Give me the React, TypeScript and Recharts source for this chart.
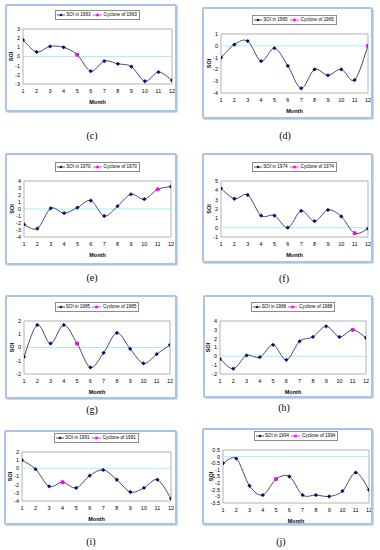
import React from 'react';
import { LineChart, Line, XAxis, YAxis, ReferenceLine, ReferenceArea, Legend } from 'recharts';

// ---------- data ----------
const months = [1, 2, 3, 4, 5, 6, 7, 8, 9, 10, 11, 12];
const years = ['1963', '1965', '1970', '1974', '1985', '1988', '1991', '1994'];
const captions = ['(c)', '(d)', '(e)', '(f)', '(g)', '(h)', '(i)', '(j)'];

const soi1963 = [1.8, 0.5, 1.1, 1.0, 0.2, -1.6, -0.5, -0.8, -1.1, -2.7, -1.7, -2.6];
const soi1965 = [-1.0, 0.1, 0.4, -1.3, -0.2, -1.7, -3.6, -2.0, -2.5, -2.0, -2.9, 0.0];
const soi1970 = [-2.2, -2.8, 0.1, -0.6, 0.2, 1.2, -1.0, 0.4, 2.1, 1.4, 2.8, 3.2];
const soi1974 = [4.2, 3.1, 3.5, 1.3, 1.3, 0.0, 1.8, 0.7, 1.9, 1.2, -0.6, -0.1];
const soi1985 = [-0.7, 1.7, 0.3, 1.7, 0.3, -1.5, -0.4, 1.1, -0.1, -1.2, -0.5, 0.2];
const soi1988 = [-0.3, -1.4, 0.1, -0.1, 1.3, -0.4, 1.7, 2.2, 3.4, 2.2, 3.0, 2.1];
const soi1991 = [1.0, -0.1, -2.2, -1.7, -2.4, -0.9, -0.2, -1.4, -2.9, -2.4, -1.4, -3.7];
const soi1994 = [-0.5, -0.15, -2.2, -2.9, -1.7, -1.5, -2.9, -2.9, -3.0, -2.6, -1.2, -2.5];
const soiSeries = [soi1963, soi1965, soi1970, soi1974, soi1985, soi1988, soi1991, soi1994];

const cycloneMonths = [5, 12, 11, 11, 5, 11, 4, 5];

const ticks1963 = [-3, -2, -1, 0, 1, 2, 3];
const ticks1965 = [-4, -3, -2, -1, 0, 1];
const ticks1970 = [-4, -3, -2, -1, 0, 1, 2, 3, 4];
const ticks1974 = [-1, 0, 1, 2, 3, 4, 5];
const ticks1985 = [-2, -1, 0, 1, 2];
const ticks1988 = [-2, -1, 0, 1, 2, 3, 4];
const ticks1991 = [-4, -3, -2, -1, 0, 1, 2];
const ticks1994 = [-3.5, -3, -2.5, -2, -1.5, -1, -0.5, 0, 0.5];
const yTickSets = [ticks1963, ticks1965, ticks1970, ticks1974, ticks1985, ticks1988, ticks1991, ticks1994];

// ---------- layout (absolute page pixels) ----------
const frames = [
  { x: 5, y: 4, w: 172, h: 108 },
  { x: 202, y: 7, w: 171, h: 112 },
  { x: 5, y: 153, w: 172, h: 112 },
  { x: 202, y: 153, w: 171, h: 110 },
  { x: 5, y: 295, w: 172, h: 104 },
  { x: 203, y: 295, w: 170, h: 103 },
  { x: 4, y: 430, w: 173, h: 95 },
  { x: 202, y: 428, w: 171, h: 97 },
];
const plots = [
  { x1: 23, x2: 172, y1: 29, y2: 84 },
  { x1: 221, x2: 368, y1: 34, y2: 93 },
  { x1: 24, x2: 171, y1: 181, y2: 237 },
  { x1: 221, x2: 368, y1: 181, y2: 237 },
  { x1: 24, x2: 170, y1: 321, y2: 374 },
  { x1: 220, x2: 366, y1: 321, y2: 374 },
  { x1: 22, x2: 171, y1: 452, y2: 501 },
  { x1: 223, x2: 369, y1: 450, y2: 503 },
];
const captionPos = [
  { x: 92, y: 136 },
  { x: 285, y: 136 },
  { x: 92, y: 278 },
  { x: 284, y: 279 },
  { x: 92, y: 410 },
  { x: 284, y: 408 },
  { x: 91, y: 542 },
  { x: 281, y: 542 },
];

const LINE_COLOR = '#2a2a48';
const MARKER = '#00007f';
const CYC = '#ff00ff';
const ZERO = '#8cf0f4';
const FRAME = '#a9c3ea';
const FONT = 'Arial, "Liberation Sans", sans-serif';

// Excel-like smoothed line (Catmull-Rom bezier)
function excelCurve(context: any) {
  let pts: number[][] = [];
  return {
    areaStart() {},
    areaEnd() {},
    lineStart() {
      pts = [];
    },
    lineEnd() {
      const n = pts.length;
      if (n === 0) return;
      context.moveTo(pts[0][0], pts[0][1]);
      if (n === 1) {
        context.lineTo(pts[0][0], pts[0][1]);
        return;
      }
      for (let i = 0; i < n - 1; i++) {
        const p0 = pts[i - 1] || pts[i];
        const p1 = pts[i];
        const p2 = pts[i + 1];
        const p3 = pts[i + 2] || pts[i + 1];
        context.bezierCurveTo(
          p1[0] + (p2[0] - p0[0]) / 6,
          p1[1] + (p2[1] - p0[1]) / 6,
          p2[0] - (p3[0] - p1[0]) / 6,
          p2[1] - (p3[1] - p1[1]) / 6,
          p2[0],
          p2[1]
        );
      }
    },
    point(x: number, y: number) {
      pts.push([+x, +y]);
    },
  };
}

const DiamondDot = (props: any) => {
  const { cx, cy, index } = props;
  if (cx == null || cy == null) return <g key={`d${index}`} />;
  const r = 1.9;
  return (
    <polygon
      key={`d${index}`}
      points={`${cx},${cy - r} ${cx + r},${cy} ${cx},${cy + r} ${cx - r},${cy}`}
      fill={MARKER}
      stroke={MARKER}
      strokeWidth={0.3}
    />
  );
};

const SquareDot = (props: any) => {
  const { cx, cy, index } = props;
  if (cx == null || cy == null) return <g key={`s${index}`} />;
  const r = 1.7;
  return <rect key={`s${index}`} x={cx - r} y={cy - r} width={2 * r} height={2 * r} fill={CYC} />;
};

const LegendBox = ({ year }: { year: string }) => (
  <div style={{ textAlign: 'center', lineHeight: 0 }}>
    <div
      style={{
        display: 'inline-flex',
        alignItems: 'center',
        border: '1px solid #8c8c8c',
        background: '#fff',
        padding: '1px 2px 1px 1px',
        fontFamily: FONT,
        fontSize: 4.6,
        lineHeight: '6px',
        color: '#000',
        whiteSpace: 'nowrap',
      }}
    >
      <svg width={8} height={6} style={{ marginRight: 1 }}>
        <line x1={0} y1={3} x2={8} y2={3} stroke={LINE_COLOR} strokeWidth={0.8} />
        <polygon points="4,1.5 5.5,3 4,4.5 2.5,3" fill={MARKER} />
      </svg>
      <span>SOI in {year}</span>
      <svg width={9} height={6} style={{ marginLeft: 2, marginRight: 2 }}>
        <line x1={0} y1={3} x2={9} y2={3} stroke={CYC} strokeWidth={0.8} />
        <rect x={3.2} y={1.7} width={2.6} height={2.6} fill={CYC} />
      </svg>
      <span>Cyclone of {year}</span>
    </div>
  </div>
);

const Panel = ({ idx }: { idx: number }) => {
  const frame = frames[idx];
  const plot = plots[idx];
  const vals = soiSeries[idx];
  const yTicks = yTickSets[idx];
  const year = years[idx];
  const cm = cycloneMonths[idx];
  const data = months.map((m, i) => ({ month: m, soi: vals[i], cyc: m === cm ? vals[i] : null }));

  const cw = frame.w - 4;
  const ch = frame.h - 4;
  const ox = frame.x + 2;
  const oy = frame.y + 2;
  const YW = 16;
  const XH = 20;
  const margin = {
    left: plot.x1 - ox - YW,
    right: ox + cw - plot.x2,
    top: plot.y1 - oy,
    bottom: Math.max(0, oy + ch - plot.y2 - XH),
  };
  const yMin = yTicks[0];
  const yMax = yTicks[yTicks.length - 1];
  const tickStyle = { fontSize: 5.5, fill: '#000', fontFamily: FONT };

  return (
    <div
      style={{
        position: 'absolute',
        left: frame.x,
        top: frame.y,
        width: frame.w,
        height: frame.h,
        boxSizing: 'border-box',
        border: `2px solid ${FRAME}`,
        borderRadius: 2,
        boxShadow: '1px 1px 0px #c9d9f2',
        background: '#fff',
      }}
    >
      <LineChart width={cw} height={ch} data={data} margin={margin}>
        <XAxis
          dataKey="month"
          type="number"
          domain={[1, 12]}
          ticks={months}
          interval={0}
          allowDataOverflow
          axisLine={false}
          tickLine={false}
          tickSize={0}
          tickMargin={5}
          height={XH}
          tick={tickStyle}
          label={{
            value: 'Month',
            position: 'insideBottom',
            offset: 0,
            style: { fontSize: 5.5, fontWeight: 'bold', fill: '#000', fontFamily: FONT },
          }}
        />
        <YAxis
          type="number"
          domain={[yMin, yMax]}
          ticks={yTicks}
          interval={0}
          allowDataOverflow
          axisLine={false}
          tickLine={false}
          tickSize={0}
          tickMargin={3}
          width={YW}
          tick={tickStyle}
          label={{
            value: 'SOI',
            angle: -90,
            position: 'insideLeft',
            offset: 4,
            style: { fontSize: 5.5, fontWeight: 'bold', fill: '#000', fontFamily: FONT, textAnchor: 'middle' },
          }}
        />
        <ReferenceArea x1={1} x2={12} y1={yMin} y2={yMax} fill="none" stroke="#a0a0a0" strokeWidth={0.8} />
        <ReferenceLine y={0} stroke={ZERO} strokeWidth={0.8} />
        <Legend
          layout="horizontal"
          verticalAlign="middle"
          align="center"
          wrapperStyle={{ top: plot.y1 - 19 - oy, left: plot.x1 - ox, width: plot.x2 - plot.x1, height: 10 }}
          content={() => <LegendBox year={year} />}
        />
        <Line
          type={excelCurve as any}
          dataKey="soi"
          stroke={LINE_COLOR}
          strokeWidth={0.85}
          dot={DiamondDot}
          activeDot={false}
          isAnimationActive={false}
        />
        <Line
          type="linear"
          dataKey="cyc"
          stroke={CYC}
          strokeWidth={0.9}
          dot={SquareDot}
          activeDot={false}
          connectNulls={false}
          isAnimationActive={false}
        />
      </LineChart>
    </div>
  );
};

export default function App() {
  return (
    <div style={{ position: 'absolute', left: 0, top: 0, width: 380, height: 550, background: '#fff', overflow: 'hidden' }}>
      {years.map((y, i) => (
        <Panel key={y} idx={i} />
      ))}
      {captions.map((c, i) => (
        <div
          key={c}
          style={{
            position: 'absolute',
            left: captionPos[i].x - 20,
            top: captionPos[i].y - 7,
            width: 40,
            textAlign: 'center',
            fontFamily: '"Liberation Serif", "Times New Roman", serif',
            fontSize: 10,
            lineHeight: '14px',
            color: '#000',
          }}
        >
          {c}
        </div>
      ))}
    </div>
  );
}
